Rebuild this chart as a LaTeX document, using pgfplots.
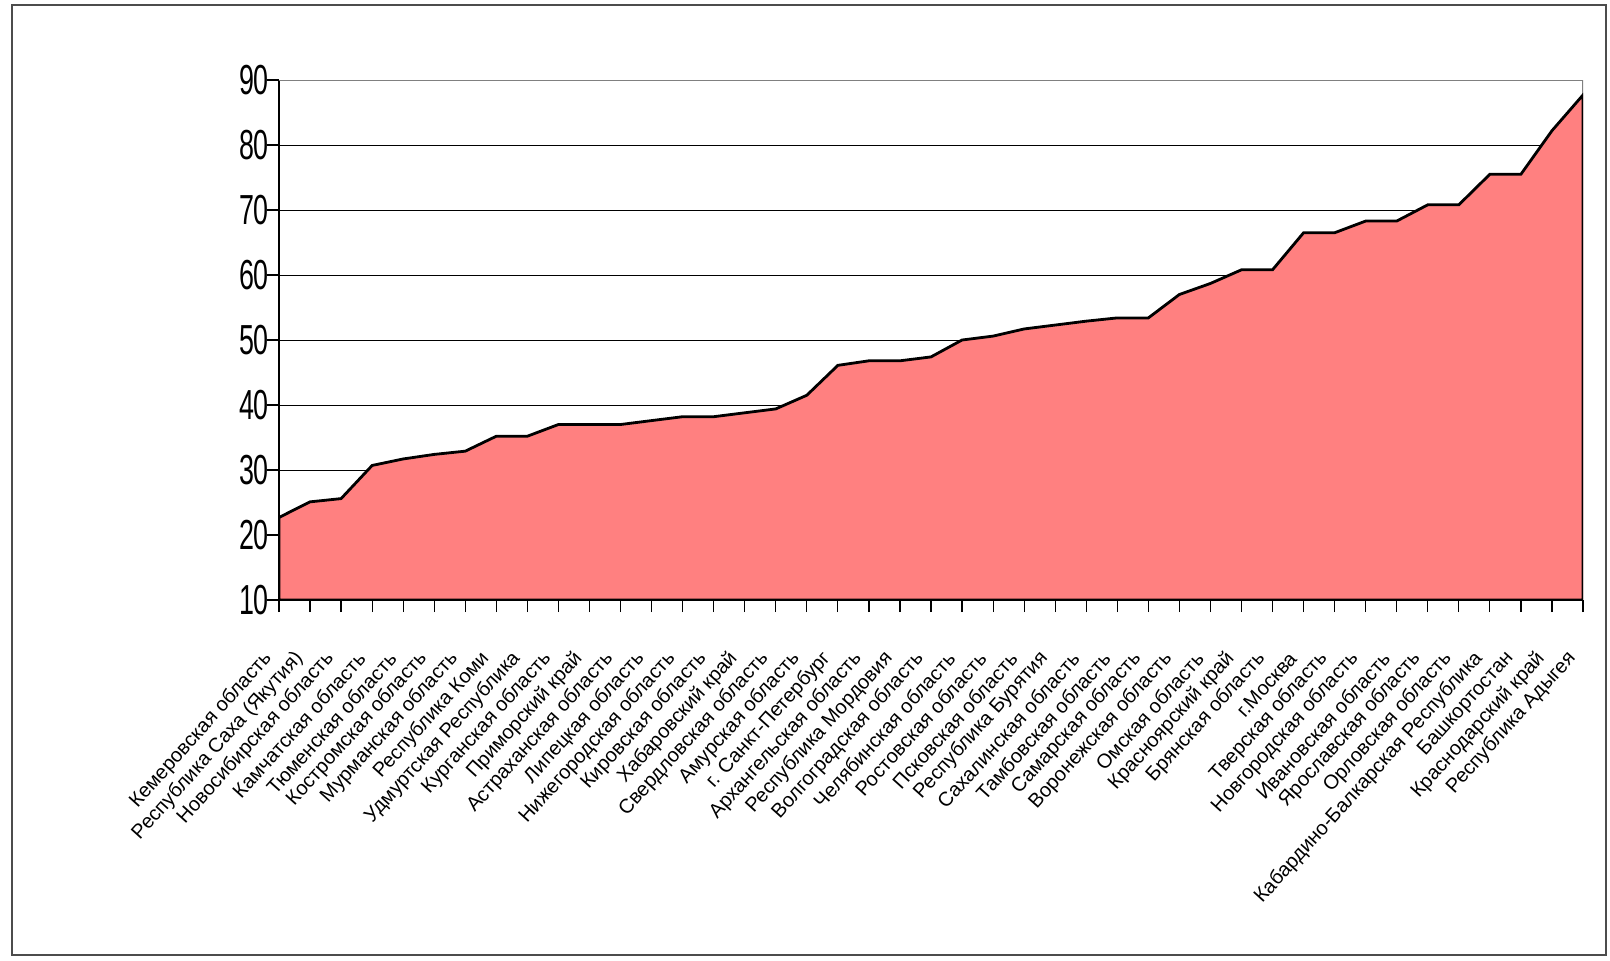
\documentclass[border=0pt]{standalone}
\usepackage{fontspec}
\setmainfont{Liberation Sans}
\newfontfamily\narrowfont[FakeStretch=0.64]{Liberation Sans}
\usepackage{pgfplots}
\pgfplotsset{compat=1.18}
\definecolor{areafill}{HTML}{FF8080}
\begin{document}
\begin{tikzpicture}[x=1pt,y=1pt]
\path[use as bounding box] (0,0) rectangle (805,480);
\draw[black!70, line width=0.6pt] (6,2.5) rectangle (803,477.5);
\begin{axis}[
  at={(139.5pt,180pt)}, anchor=south west,
  width=652pt, height=260pt, scale only axis,
  xmin=0, xmax=42, ymin=10, ymax=90,
  ytick={10,20,...,90},
  xtick={0,...,42},
  xticklabels={{Кемеровская область},{Республика Саха (Якутия)},{Новосибирская область},{Камчатская область},{Тюменская область},{Костромская область},{Мурманская область},{Республика Коми},{Удмуртская Республика},{Курганская область},{Приморский край},{Астраханская область},{Липецкая область},{Нижегородская область},{Кировская область},{Хабаровский край},{Свердловская область},{Амурская область},{г. Санкт-Петербург},{Архангельская область},{Республика Мордовия},{Волгоградская область},{Челябинская область},{Ростовская область},{Псковская область},{Республика Бурятия},{Сахалинская область},{Тамбовская область},{Самарская область},{Воронежская область},{Омская область},{Красноярский край},{Брянская область},{г.Москва},{Тверская область},{Новгородская область},{Ивановская область},{Ярославская область},{Орловская область},{Кабардино-Балкарская Республика},{Башкортостан},{Краснодарский край},{Республика Адыгея}},
  xticklabel style={yshift=-19pt, xshift=-3pt, rotate=48, anchor=east, font=\fontsize{10}{11}\selectfont},
  yticklabel style={xshift=4.5pt, font=\narrowfont\fontsize{21}{22}\selectfont},
  /pgf/number format/assume math mode=true,
  tick align=outside,
  major tick length=6pt,
  tick style={black, line width=0.6pt},
  ymajorgrids,
  grid style={black, line width=0.5pt},
  axis x line*=bottom, axis y line*=left,
  axis line style={black, line width=0.8pt},
]
\draw[gray, line width=1.2pt] (rel axis cs:0,1) -- (rel axis cs:1,1) -- (rel axis cs:1,0);
\addplot[fill=areafill, draw=black, line width=1.4pt] coordinates {
(0,22.7) (1,25.1) (2,25.6) (3,30.7) (4,31.7) (5,32.4) (6,32.9) (7,35.2) (8,35.2) (9,37.0)
(10,37.0) (11,37.0) (12,37.6) (13,38.2) (14,38.2) (15,38.8) (16,39.4) (17,41.5) (18,46.1) (19,46.8)
(20,46.8) (21,47.4) (22,50.0) (23,50.6) (24,51.7) (25,52.3) (26,52.9) (27,53.4) (28,53.4) (29,57.0)
(30,58.7) (31,60.8) (32,60.8) (33,66.5) (34,66.5) (35,68.3) (36,68.3) (37,70.8) (38,70.8) (39,75.5)
(40,75.5) (41,82.2) (42,87.7)
} \closedcycle;
\end{axis}
\end{tikzpicture}
\end{document}
